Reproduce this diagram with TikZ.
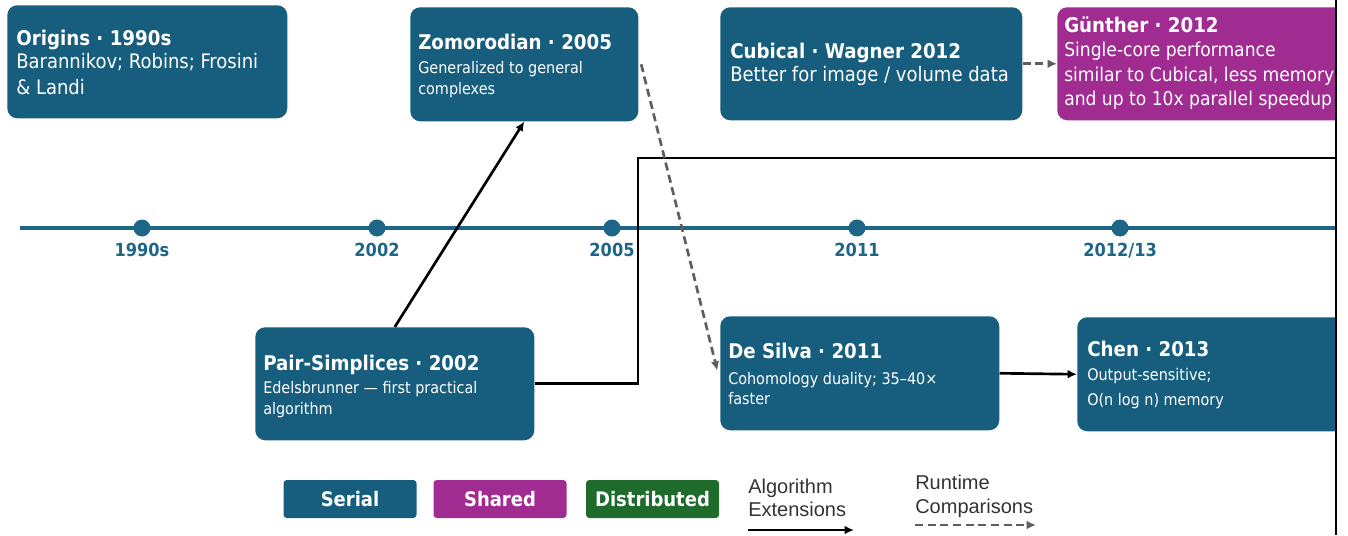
\documentclass[tikz,border=0pt]{standalone}
\usepackage{fontspec}
\setmainfont{DejaVu Sans Condensed}
\newfontfamily\legfont{Liberation Sans}
\usetikzlibrary{arrows.meta}
\definecolor{serialc}{HTML}{175E7E}
\definecolor{sharedc}{HTML}{A02B91}
\definecolor{distc}{HTML}{1F6B2B}
\definecolor{linec}{HTML}{1E6688}
\definecolor{dashc}{HTML}{5E5E5E}
\newcommand{\pxu}{0.75pt}
\tikzset{
  box/.style={rounded corners=7.5pt, anchor=north west, inner sep=0pt, draw=none},
  ttl/.style={anchor=base west, inner sep=0pt, text=white, font=\bfseries\fontsize{15.2pt}{18pt}\selectfont},
  bigsub/.style={anchor=base west, inner sep=0pt, text=white, font=\fontsize{15pt}{18pt}\selectfont},
  gusub/.style={anchor=base west, inner sep=0pt, text=white, font=\fontsize{14.3pt}{18pt}\selectfont},
  smallsub/.style={anchor=base west, inner sep=0pt, text=white, font=\fontsize{12pt}{14pt}\selectfont},
  tdot/.style={circle, fill=linec, inner sep=0pt, minimum size=17*\pxu},
  yr/.style={anchor=base, inner sep=0pt, text=linec, font=\bfseries\fontsize{13.5pt}{16pt}\selectfont},
  ext/.style={black, line width=2pt, -{Latex[length=7pt,width=6.5pt]}},
  cmp/.style={dashc, line width=2pt, dash pattern=on 6pt off 3.5pt, -{Latex[length=7pt,width=6.5pt]}},
  legbox/.style={rounded corners=2.5pt, inner sep=0pt, minimum width=133*\pxu, minimum height=38*\pxu, text=white, font=\bfseries\fontsize{15pt}{18pt}\selectfont},
  legtxt/.style={anchor=base west, inner sep=0pt, text=black!80, font=\legfont\fontsize{15pt}{18pt}\selectfont},
}
\begin{document}
\begin{tikzpicture}[x=0.75pt,y=-0.75pt]
\useasboundingbox (0,0) rectangle (1348,535);
\begin{scope}
\clip (0,0) rectangle (1336,535);
% timeline
\coordinate (tl0) at (20,228);
\coordinate (tl1) at (1340,228);
\draw[linec, line width=2.5pt] (tl0) -- (tl1);
\node[tdot] (d1) at (142,228) {};
\node[tdot] (d2) at (377,228) {};
\node[tdot] (d3) at (612,228) {};
\node[tdot] (d4) at (857,228) {};
\node[tdot] (d5) at (1120,228) {};
\node[yr] (y1) at (142,256) {1990s};
\node[yr] (y2) at (377,256) {2002};
\node[yr] (y3) at (612,256) {2005};
\node[yr] (y4) at (857,256) {2011};
\node[yr] (y5) at (1120,256) {2012/13};
% boxes
\node[box, fill=serialc, minimum width=280*\pxu, minimum height=113*\pxu] (orig) at (7,5) {};
\node[ttl] (origT) at (16,46) {Origins · 1990s};
\node[bigsub] (origS1) at (16,69) {Barannikov; Robins; Frosini};
\node[bigsub] (origS2) at (16,94) {\& Landi};

\node[box, fill=serialc, minimum width=228*\pxu, minimum height=114*\pxu] (zo) at (410,7) {};
\node[ttl] (zoT) at (418,50) {Zomorodian · 2005};
\node[smallsub] (zoS1) at (418,74) {Generalized to general};
\node[smallsub] (zoS2) at (418,94) {complexes};

\node[box, fill=serialc, minimum width=302*\pxu, minimum height=113*\pxu] (cu) at (720,7) {};
\node[ttl] (cuT) at (730,59) {Cubical · Wagner 2012};
\node[bigsub] (cuS) at (730,82) {Better for image / volume data};

\node[box, fill=sharedc, minimum width=300*\pxu, minimum height=113*\pxu] (gu) at (1057,7) {};
\node[ttl] (guT) at (1064,33) {Günther · 2012};
\node[gusub] (guS1) at (1064,57) {Single-core performance};
\node[gusub] (guS2) at (1064,81) {similar to Cubical, less memory};
\node[gusub] (guS3) at (1064,105) {and up to 10x parallel speedup};

\node[box, fill=serialc, minimum width=279*\pxu, minimum height=113*\pxu] (ps) at (255,327) {};
\node[ttl] (psT) at (263,370) {Pair-Simplices · 2002};
\node[smallsub] (psS1) at (263,393) {Edelsbrunner — first practical};
\node[smallsub] (psS2) at (263,414) {algorithm};

\node[box, fill=serialc, minimum width=279*\pxu, minimum height=114*\pxu] (ds) at (720,316) {};
\node[ttl] (dsT) at (728,358) {De Silva · 2011};
\node[smallsub] (dsS1) at (728,384) {Cohomology duality; 35–40×};
\node[smallsub] (dsS2) at (728,404) {faster};

\node[box, fill=serialc, minimum width=290*\pxu, minimum height=114*\pxu] (ch) at (1077,317) {};
\node[ttl] (chT) at (1087,356) {Chen · 2013};
\node[smallsub] (chS1) at (1087,380) {Output-sensitive;};
\node[smallsub] (chS2) at (1087,405) {O(n log n) memory};

% connectors
\coordinate (bend) at (638,158);
\coordinate (edge) at (1340,158);
\draw[black, line width=2pt] (ps.east) -| (bend) -- (edge);
\draw[ext] (ps.north) -- (zo.south);
\draw[cmp] ([xshift=2pt]zo.east) -- ([xshift=-2pt,yshift=2pt]ds.west);
\draw[ext] (ds.east) -- (ch.west);
\draw[cmp] (cu.east) -- (gu.west);
\end{scope}
% right border
\coordinate (rt) at (1336,0);
\coordinate (rb) at (1336,535);
\draw[black, line width=1.2pt] (rt) -- (rb);
% legend
\node[legbox, fill=serialc] (lser) at (350,499) {Serial};
\node[legbox, fill=sharedc] (lsha) at (500,499) {Shared};
\node[legbox, fill=distc] (ldis) at (652.5,499) {Distributed};
\node[legtxt] (la1) at (748,493) {Algorithm};
\node[legtxt] (la2) at (748,516) {Extensions};
\coordinate (lea) at (748,530);
\coordinate (leb) at (854,530);
\draw[ext] (lea) -- (leb);
\node[legtxt] (lr1) at (915,489) {Runtime};
\node[legtxt] (lr2) at (915,513) {Comparisons};
\coordinate (lca) at (915,525);
\coordinate (lcb) at (1036,525);
\draw[cmp] (lca) -- (lcb);
\end{tikzpicture}
\end{document}
